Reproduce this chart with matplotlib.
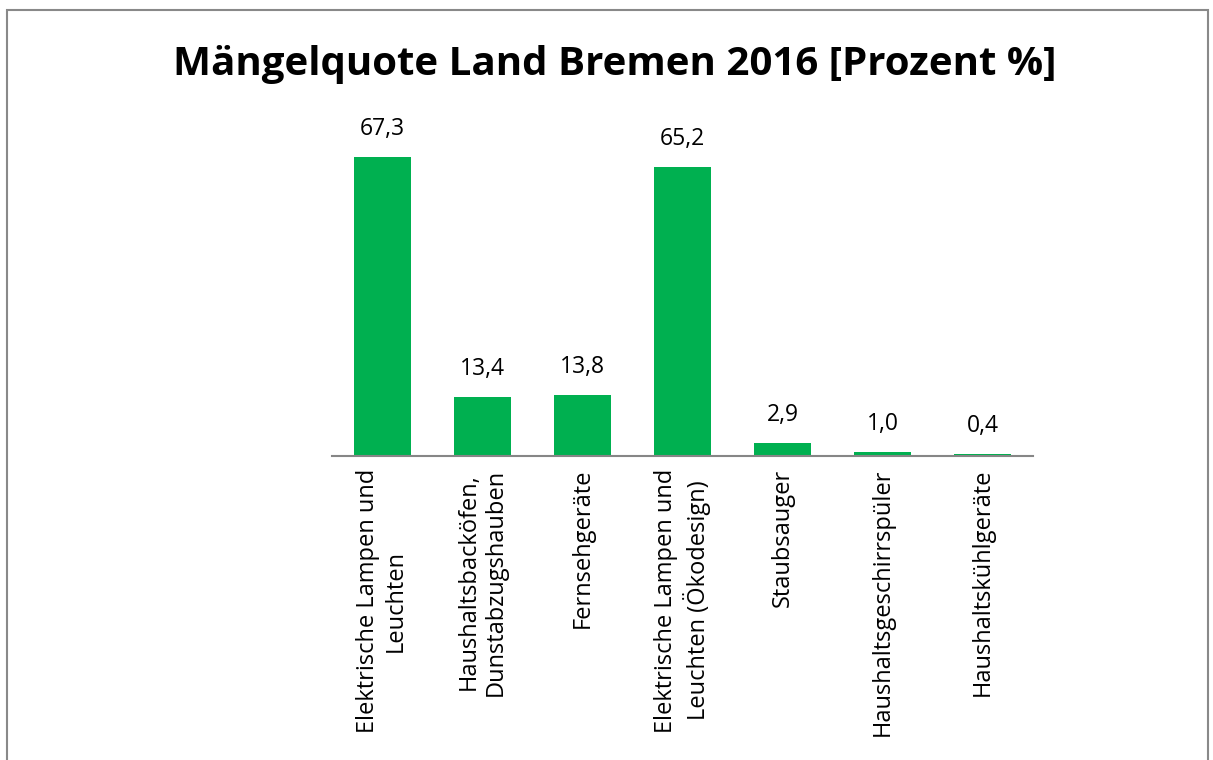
import matplotlib.pyplot as plt
from matplotlib.patches import Rectangle

plt.rcParams['font.family'] = ['Open Sans', 'DejaVu Sans']

categories = [
    "Elektrische Lampen und\nLeuchten",
    "Haushaltsbacköfen,\nDunstabzugshauben",
    "Fernsehgeräte",
    "Elektrische Lampen und\nLeuchten (Ökodesign)",
    "Staubsauger",
    "Haushaltsgeschirrspüler",
    "Haushaltskühlgeräte",
]
values = [67.3, 13.4, 13.8, 65.2, 2.9, 1.0, 0.4]
labels = ["67,3", "13,4", "13,8", "65,2", "2,9", "1,0", "0,4"]

W, H = 1213, 760
fig = plt.figure(figsize=(W / 100, H / 100), dpi=100)

# chart area border
fig.patches.append(Rectangle((7 / W, -0.1), 1201 / W, 1.1 - 10 / H,
                             transform=fig.transFigure, fill=False,
                             edgecolor='#898989', linewidth=1.5))

ax = fig.add_axes([332 / W, 1 - 456 / H, 701 / W, (456 - 123) / H])
x = range(len(values))
ax.bar(x, values, width=0.57, color='#00B050')
for xi, v, t in zip(x, values, labels):
    ax.text(xi, v + 3.6, t, ha='center', va='bottom', fontsize=16.5)

ax.set_xlim(-0.5, len(values) - 0.5)
ax.set_ylim(0, 75)
ax.set_xticks(list(x))
ax.set_xticklabels(categories, rotation=90, fontsize=17, linespacing=1.2,
                   multialignment='center')
ax.tick_params(axis='x', length=0, pad=9)
ax.set_yticks([])
for s in ['top', 'right', 'left']:
    ax.spines[s].set_visible(False)
ax.spines['bottom'].set_color('#868686')
ax.spines['bottom'].set_linewidth(1.5)

fig.text(615 / W, 1 - 65 / H, "Mängelquote Land Bremen 2016 [Prozent %]",
         ha='center', va='center', fontsize=29, fontweight='bold')

fig.savefig("out.png", dpi=100)
